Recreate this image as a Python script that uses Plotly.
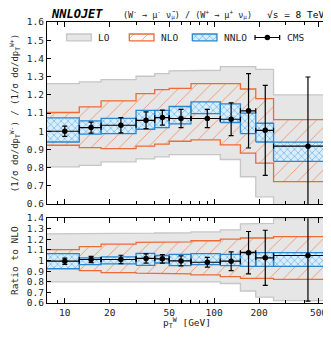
import plotly.graph_objects as go

# pT^W bins [GeV] and CMS bin centres
bin_edges = [7.5, 12.5, 17.5, 30, 40, 50, 70, 110, 150, 190, 250, 600]
cms_pt = [10, 15, 23.75, 35, 45, 60, 90, 130, 170, 220, 425]

# upper panel: (1/s ds/dpT)(W-) / (1/s ds/dpT)(W+)
cms_top = [1.000, 1.020, 1.033, 1.060, 1.075, 1.070, 1.070, 1.066, 1.112, 1.005, 0.918]
cms_top_err = [0.028, 0.030, 0.042, 0.046, 0.041, 0.050, 0.050, 0.090, 0.204, 0.247, 0.38]
lo_top_hi = [1.262, 1.271, 1.284, 1.302, 1.317, 1.332, 1.335, 1.355, 1.355, 1.340, 1.200]
lo_top_lo = [0.804, 0.813, 0.832, 0.848, 0.859, 0.872, 0.872, 0.845, 0.750, 0.640, 0.530]
nlo_top_hi = [1.103, 1.134, 1.167, 1.207, 1.229, 1.236, 1.262, 1.262, 1.232, 1.179, 1.064]
nlo_top_lo = [0.923, 0.910, 0.905, 0.918, 0.929, 0.945, 0.953, 0.925, 0.880, 0.825, 0.723]
nnlo_top_hi = [1.073, 1.057, 1.071, 1.115, 1.115, 1.136, 1.161, 1.150, 1.100, 1.044, 0.940]
nnlo_top_lo = [0.941, 0.984, 0.987, 1.011, 1.020, 1.040, 1.097, 1.048, 0.987, 0.941, 0.835]

# lower panel: ratio to NLO
cms_rat = [0.994, 1.010, 1.010, 1.020, 1.016, 0.997, 0.984, 0.994, 1.074, 1.026, 1.048]
cms_rat_err = [0.030, 0.030, 0.040, 0.044, 0.040, 0.047, 0.046, 0.088, 0.200, 0.260, 0.430]
lo_rat_hi = [1.252, 1.252, 1.255, 1.258, 1.260, 1.262, 1.270, 1.290, 1.345, 1.350, 1.395]
lo_rat_lo = [0.800, 0.800, 0.800, 0.800, 0.800, 0.800, 0.800, 0.784, 0.713, 0.655, 0.623]
nlo_rat_hi = [1.103, 1.132, 1.155, 1.171, 1.171, 1.177, 1.187, 1.203, 1.213, 1.213, 1.226]
nlo_rat_lo = [0.929, 0.906, 0.887, 0.881, 0.881, 0.874, 0.865, 0.848, 0.832, 0.832, 0.823]
nnlo_rat_hi = [1.065, 1.026, 1.035, 1.068, 1.048, 1.058, 1.065, 1.058, 1.080, 1.074, 1.074]
nnlo_rat_lo = [0.923, 0.961, 0.968, 0.955, 0.977, 0.952, 0.961, 0.952, 0.945, 0.945, 0.945]

FONT = "DejaVu Sans Mono"
GREY_F, GREY_L = "#e6e6e6", "#c6c6c6"
ORANGE = "#ee6b35"
BLUE = "#2b86cf"
NLO_PAT = dict(shape="/", fgcolor="#f28a5c", bgcolor="rgba(0,0,0,0)", size=10, solidity=0.08, fillmode="replace")
NNLO_PAT = dict(shape="x", fgcolor="#7dbdee", bgcolor="#d9edfb", size=5, solidity=0.3, fillmode="replace")


def step_band(lo, hi):
    xs, ys = [], []
    for i in range(len(hi)):
        xs += [bin_edges[i], bin_edges[i + 1]]
        ys += [hi[i], hi[i]]
    for i in reversed(range(len(lo))):
        xs += [bin_edges[i + 1], bin_edges[i]]
        ys += [lo[i], lo[i]]
    return xs + [xs[0]], ys + [ys[0]]


def boxes(lo, hi):
    xs, ys = [], []
    for i in range(len(hi)):
        a, b = bin_edges[i], bin_edges[i + 1]
        xs += [a, b, b, a, a, None]
        ys += [lo[i], lo[i], hi[i], hi[i], lo[i], None]
    return xs, ys


ex_plus = [bin_edges[i + 1] - cms_pt[i] for i in range(len(cms_pt))]
ex_minus = [cms_pt[i] - bin_edges[i] for i in range(len(cms_pt))]

fig = go.Figure()


def add_panel(xa, ya, lo_lo, lo_hi, nlo_lo, nlo_hi, nnlo_lo, nnlo_hi, cms, err):
    x, y = step_band(lo_lo, lo_hi)
    fig.add_trace(go.Scatter(x=x, y=y, mode="lines", fill="toself", fillcolor=GREY_F,
                             line=dict(color=GREY_L, width=1.3), xaxis=xa, yaxis=ya))
    x, y = step_band(nlo_lo, nlo_hi)
    fig.add_trace(go.Scatter(x=x, y=y, mode="lines", fill="toself", fillcolor="rgba(0,0,0,0)",
                             fillpattern=NLO_PAT, line=dict(color=ORANGE, width=1.3), xaxis=xa, yaxis=ya))
    x, y = boxes(nnlo_lo, nnlo_hi)
    fig.add_trace(go.Scatter(x=x, y=y, mode="lines", fill="toself", fillcolor="#d9edfb",
                             fillpattern=NNLO_PAT, line=dict(color=BLUE, width=1.3), xaxis=xa, yaxis=ya))
    fig.add_trace(go.Scatter(x=cms_pt, y=cms, mode="markers",
                             marker=dict(color="black", size=5.5),
                             error_y=dict(type="data", array=err, color="black", thickness=1.2, width=2.5),
                             error_x=dict(type="data", array=ex_plus, arrayminus=ex_minus,
                                          color="black", thickness=1.2, width=2.5),
                             xaxis=xa, yaxis=ya))


add_panel("x", "y", lo_top_lo, lo_top_hi, nlo_top_lo, nlo_top_hi,
          nnlo_top_lo, nnlo_top_hi, cms_top, cms_top_err)
add_panel("x2", "y2", lo_rat_lo, lo_rat_hi, nlo_rat_lo, nlo_rat_hi,
          nnlo_rat_lo, nnlo_rat_hi, cms_rat, cms_rat_err)

# legend drawn inside the upper panel on an overlaid unit axis
leg_y, leg_h = 0.915, 0.019
leg_slots = [0.070, 0.294, 0.519, 0.743]
leg_w = 0.088
for k, (name, kind) in enumerate([("LO", "lo"), ("NLO", "nlo"), ("NNLO", "nnlo"), ("CMS", "cms")]):
    a = leg_slots[k]
    b = a + leg_w
    if kind == "cms":
        fig.add_trace(go.Scatter(x=[(a + b) / 2], y=[leg_y], mode="markers",
                                 marker=dict(color="black", size=5.5),
                                 error_x=dict(type="constant", value=leg_w / 2, color="black",
                                              thickness=1.2, width=2.5),
                                 xaxis="x3", yaxis="y3"))
    else:
        sx = [a, b, b, a, a]
        sy = [leg_y - leg_h, leg_y - leg_h, leg_y + leg_h, leg_y + leg_h, leg_y - leg_h]
        style = {
            "lo": dict(fillcolor=GREY_F, line=dict(color=GREY_L, width=1.3)),
            "nlo": dict(fillcolor="rgba(0,0,0,0)", fillpattern=NLO_PAT, line=dict(color=ORANGE, width=1.3)),
            "nnlo": dict(fillcolor="#d9edfb", fillpattern=NNLO_PAT, line=dict(color=BLUE, width=1.3)),
        }[kind]
        fig.add_trace(go.Scatter(x=sx, y=sy, mode="lines", fill="toself",
                                 xaxis="x3", yaxis="y3", **style))
    fig.add_annotation(x=b + 0.018, y=leg_y, xref="x3", yref="y3", text=name, showarrow=False,
                       xanchor="left", yanchor="middle", font=dict(family=FONT, size=9.5, color="#222"))

tick_font = dict(family=FONT, size=9.5, color="#222")
x_range = [0.8808, 2.7559]
x_common = dict(type="log", range=x_range, showline=True, linecolor="black", linewidth=1.2,
                mirror="ticks", ticks="inside", ticklen=5, tickcolor="black", automargin=False,
                tickvals=[10, 20, 50, 100, 200, 500], ticktext=["10", "20", "50", "100", "200", "500"],
                minor=dict(tickvals=[9, 30, 40, 60, 70, 80, 90, 300, 400], ticks="inside",
                           ticklen=3, tickcolor="black"),
                showgrid=False, zeroline=False, tickfont=tick_font)
y_common = dict(showline=True, linecolor="black", linewidth=1.2, mirror="ticks", ticks="inside",
                ticklen=4, tickcolor="black", showgrid=False, zeroline=False, tickfont=tick_font,
                automargin=False)

top_ticks = [0.6, 0.7, 0.8, 0.9, 1.0, 1.1, 1.2, 1.3, 1.4, 1.5, 1.6]
bot_ticks = [0.6, 0.7, 0.8, 0.9, 1.0, 1.1, 1.2, 1.3, 1.4]


def lab(v):
    return "1" if v == 1.0 else f"{v:.1f}"


# the page adds an 8 px body margin, so the figure is 8 px smaller and margins shrink by 8
fig.update_layout(
    width=323, height=322,
    margin=dict(l=39, r=4, t=14, b=27, autoexpand=False),
    paper_bgcolor="white", plot_bgcolor="rgba(0,0,0,0)",
    showlegend=False,
    font=dict(family=FONT, size=9.5, color="#222"),
    xaxis=dict(domain=[0, 1], anchor="y", showticklabels=False, **x_common),
    yaxis=dict(domain=[0.352, 1], anchor="x", range=[0.6, 1.6], tickvals=top_ticks,
               ticktext=[lab(v) for v in top_ticks],
               title=dict(text="(1/σ dσ/dp<sub>T</sub><sup>W-</sup>) / (1/σ dσ/dp<sub>T</sub><sup>W+</sup>)",
                          font=dict(family=FONT, size=9), standoff=6), **y_common),
    xaxis2=dict(domain=[0, 1], anchor="y2", matches="x",
                title=dict(text="p<sub>T</sub><sup>W</sup> [GeV]", font=dict(family=FONT, size=9.5), standoff=0),
                **x_common),
    yaxis2=dict(domain=[0, 0.302], anchor="x2", range=[0.6, 1.4], tickvals=bot_ticks,
                ticktext=[lab(v) for v in bot_ticks],
                title=dict(text="Ratio to NLO", font=dict(family=FONT, size=9.5), standoff=6), **y_common),
    xaxis3=dict(overlaying="x", range=[0, 1], visible=False, anchor="y3"),
    yaxis3=dict(overlaying="y", range=[0, 1], visible=False, anchor="x3"),
)

fig.add_annotation(x=0.006, y=1.028, xref="paper", yref="paper", text="<b><i>NNLOJET</i></b>",
                   showarrow=False, xanchor="left", yanchor="middle",
                   font=dict(family=FONT, size=12, color="black"))
fig.add_annotation(x=0.5, y=1.028, xref="paper", yref="paper",
                   text="(W<sup>-</sup> → μ<sup>-</sup> ν̄<sub>μ</sub>) / (W<sup>+</sup> → μ<sup>+</sup> ν<sub>μ</sub>)",
                   showarrow=False, xanchor="center", yanchor="middle",
                   font=dict(family=FONT, size=8.5, color="#222"))
fig.add_annotation(x=0.997, y=1.028, xref="paper", yref="paper", text="√s = 8 TeV",
                   showarrow=False, xanchor="right", yanchor="middle",
                   font=dict(family=FONT, size=9.5, color="black"))

fig.write_html("out.html")
